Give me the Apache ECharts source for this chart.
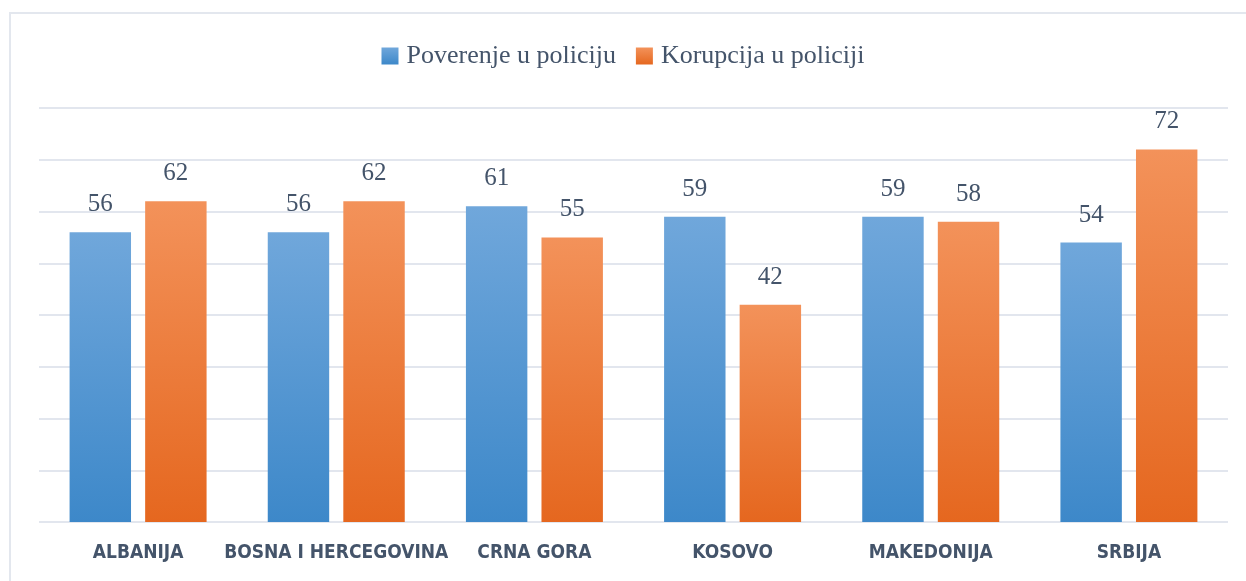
<!DOCTYPE html>
<html>
<head>
<meta charset="utf-8">
<script src="https://cdn.jsdelivr.net/npm/echarts@6/dist/echarts.min.js"></script>
<style>
  html, body { margin: 0; padding: 0; background: #fff; }
  #chart { width: 1246px; height: 581px; }
</style>
</head>
<body>
<div id="chart"></div>
<script>
// Values.
var countries = ["ALBANIJA", "BOSNA I HERCEGOVINA", "CRNA GORA", "KOSOVO", "MAKEDONIJA", "SRBIJA"];
var trustInPolice = [56, 56, 61, 59, 59, 54];
var corruptionInPolice = [62, 62, 55, 42, 58, 72];
var seriesNames = ["Poverenje u policiju", "Korupcija u policiji"];

var textColor = "#44546a";
var serif = "'Liberation Serif', 'DejaVu Serif', serif";

function grad(top, bottom) {
  return new echarts.graphic.LinearGradient(0, 0, 0, 1, [
    { offset: 0, color: top },
    { offset: 1, color: bottom }
  ]);
}

var valueLabel = {
  show: true,
  position: "top",
  distance: 15,
  color: textColor,
  fontFamily: serif,
  fontSize: 25
};

var chart = echarts.init(document.getElementById("chart"), null, { renderer: "canvas" });

chart.setOption({
  animation: false,
  backgroundColor: "#fff",
  graphic: [{
    type: "rect",
    shape: { x: 10, y: 13, width: 1300, height: 700 },
    style: { fill: "none", stroke: "#e3e7ee", lineWidth: 2 },
    silent: true
  }],
  legend: {
    top: 38,
    left: "center",
    icon: "rect",
    itemWidth: 17,
    itemHeight: 17,
    itemGap: 20,
    textStyle: { color: textColor, fontFamily: serif, fontSize: 26, padding: [0, 0, 0, 3] },
    data: seriesNames
  },
  grid: { left: 39, right: 18, top: 108, bottom: 59 },
  xAxis: {
    type: "category",
    data: countries,
    axisLine: { show: false },
    axisTick: { show: false },
    axisLabel: {
      interval: 0,
      margin: 22,
      color: textColor,
      fontWeight: "bold",
      fontSize: 19,
      fontFamily: "'Liberation Sans Narrow', 'DejaVu Sans Condensed', sans-serif"
    }
  },
  yAxis: {
    type: "value",
    min: 0,
    max: 80,
    interval: 10,
    axisLabel: { show: false },
    axisLine: { show: false },
    axisTick: { show: false },
    splitLine: { lineStyle: { color: "#e2e6ee", width: 2 } }
  },
  series: [
    {
      name: seriesNames[0],
      type: "bar",
      data: trustInPolice,
      barWidth: "31%",
      barGap: "23%",
      itemStyle: { color: grad("#70a7db", "#3d88c9") },
      label: valueLabel
    },
    {
      name: seriesNames[1],
      type: "bar",
      data: corruptionInPolice,
      barWidth: "31%",
      itemStyle: { color: grad("#f3925a", "#e5671f") },
      label: valueLabel
    }
  ]
});
</script>
</body>
</html>
